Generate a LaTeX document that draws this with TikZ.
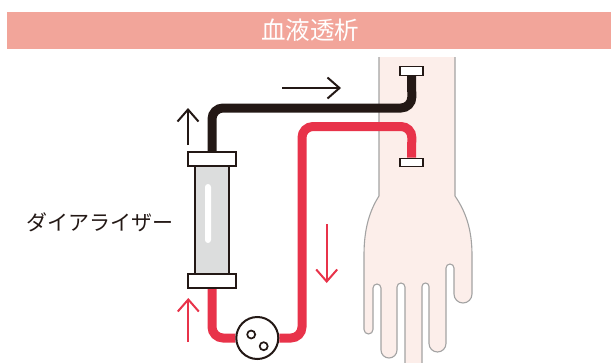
\documentclass[tikz,border=0pt]{standalone}
\usepackage{fontspec}
\newfontfamily\jp{Noto Sans CJK JP}
\usetikzlibrary{arrows.meta}
\definecolor{bandpink}{HTML}{F2A59A}
\definecolor{tubeblack}{HTML}{231815}
\definecolor{tubered}{HTML}{E8334A}
\definecolor{glassgray}{HTML}{DCDDDD}
\definecolor{skin}{HTML}{FCEEEA}
\definecolor{skinline}{HTML}{A3A3A3}
\pgfdeclarelayer{back}
\pgfdeclarelayer{tubes}
\pgfsetlayers{back,tubes,main}
\tikzset{
  capbox/.style={draw=tubeblack, line width=1.3pt, fill=white, inner sep=0pt, minimum width=48pt, minimum height=14pt},
  needle/.style={draw=tubeblack, line width=1.3pt, fill=white, inner sep=0pt, minimum width=23pt, minimum height=8.5pt},
  column/.style={draw=tubeblack, line width=1.3pt, fill=glassgray, inner sep=0pt, minimum width=34pt, minimum height=108pt},
  pumpbody/.style={circle, draw=tubeblack, line width=2pt, fill=white, inner sep=0pt, minimum size=42pt},
  roller/.style={circle, draw=tubeblack, line width=1.7pt, fill=white, inner sep=0pt, minimum size=8pt},
  tube/.style={line width=9pt, rounded corners=11pt},
  flow/.style={line width=2pt, -{Straight Barb[length=12pt, width=21pt, line width=2pt]}},
}
\begin{document}
\begin{tikzpicture}[x=1pt, y=-1pt]
\useasboundingbox (0,0) rectangle (611,362);

% title band
\fill[bandpink] (7,11.7) rectangle (611,49);
\node[text=white, font=\jp\fontsize{24.5pt}{28pt}\selectfont] (title) at (310,30) {血液透析};

% forearm and hand
\begin{pgfonlayer}{back}
\draw[skinline, fill=skin, line width=1.1pt, line join=round]
  (379,57) -- (379,196)
  .. controls (370,210) and (364,228) .. (364,255)
  -- (364,329.5) arc[start angle=180, end angle=0, radius=4.5]
  -- (373,288) arc[start angle=180, end angle=360, radius=4]
  -- (381,350) arc[start angle=180, end angle=0, radius=8]
  -- (397,287) arc[start angle=180, end angle=360, radius=4]
  -- (405,375) -- (422,375)
  -- (422,286.5) arc[start angle=180, end angle=360, radius=3.5]
  -- (429,343.5) arc[start angle=180, end angle=0, radius=8.5]
  -- (446,268) arc[start angle=180, end angle=360, radius=4]
  -- (454,294) arc[start angle=180, end angle=0, radius=9]
  -- (472,255)
  .. controls (472,230) and (466,212) .. (455,196)
  -- (455,57);
\end{pgfonlayer}

% dialyzer
\node[column] (body) at (212,220) {};
\fill[white, rounded corners=3pt] (205,184) rectangle (211,243);
\node[capbox] (dtop) at (212,159) {};
\node[capbox] (dbot) at (212,281) {};
\node[text=tubeblack, font=\jp\fontsize{21pt}{25pt}\selectfont] (label) at (100,222.5) {ダイアライザー};

% needles in the arm
\node[needle] (nout) at (411.5,71) {};
\node[needle] (nin) at (411.5,162.5) {};

% blood pump
\node[pumpbody] (pump) at (257.3,338) {};
\node[roller] (r1) at (251.2,334.5) {};
\node[roller] (r2) at (263.7,346.2) {};

% blood lines
\coordinate (bk1) at (212,108);
\coordinate (bk2) at (412,108);
\coordinate (rd1) at (302,338);
\coordinate (rd2) at (302,126.5);
\coordinate (rd3) at (412,126.5);
\begin{pgfonlayer}{tubes}
\draw[tube, tubeblack] (dtop.north) -- (bk1) -- (bk2) -- (nout.south);
\draw[tube, tubered] (dbot.south) |- (pump.west);
\draw[tube, tubered] (pump.east) -- (rd1) -- (rd2) -- (rd3) -- (nin.north);
\end{pgfonlayer}

% flow direction arrows
\coordinate (a1s) at (188,145);  \coordinate (a1e) at (188,108);
\coordinate (a2s) at (282,88);   \coordinate (a2e) at (341,88);
\coordinate (a3s) at (188.3,342); \coordinate (a3e) at (188.3,298);
\coordinate (a4s) at (326.7,224); \coordinate (a4e) at (326.7,283);
\draw[flow, tubeblack] (a1s) -- (a1e);
\draw[flow, tubeblack] (a2s) -- (a2e);
\draw[flow, tubered] (a3s) -- (a3e);
\draw[flow, tubered] (a4s) -- (a4e);
\end{tikzpicture}
\end{document}
